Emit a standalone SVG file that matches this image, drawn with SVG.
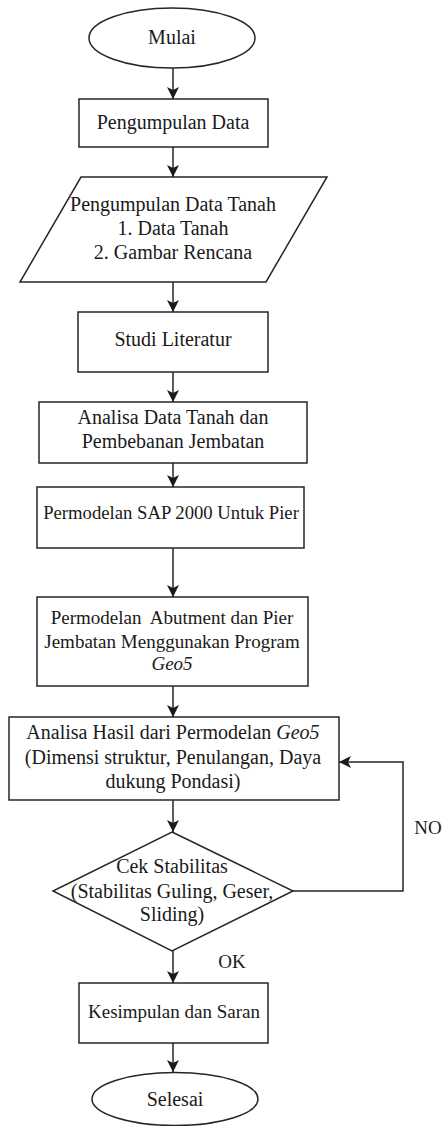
<svg xmlns="http://www.w3.org/2000/svg" width="443" height="1126" viewBox="0 0 443 1126">
  <style>
    .shape { fill: #ffffff; stroke: #262626; stroke-width: 1.5; }
    .edge { fill: none; stroke: #262626; stroke-width: 1.5; }
    .label { font-family: "Liberation Serif", "Times New Roman", serif; font-size: 20px; fill: #1a1a1a; text-anchor: middle; }
    .sm { font-size: 19px; }
    .it { font-style: italic; }
  </style>
  <defs>
    <marker id="arrow" viewBox="0 0 12 12" refX="12" refY="6" markerWidth="12" markerHeight="12" markerUnits="userSpaceOnUse" orient="auto">
      <path d="M0,0 L12,6 L0,12 L3,6 Z" fill="#1a1a1a"/>
    </marker>
  </defs>

  <rect width="443" height="1126" fill="#ffffff"/>

  <!-- connectors -->
  <g id="connectors">
    <line class="edge" x1="173" y1="68" x2="173" y2="99" marker-end="url(#arrow)"/>
    <line class="edge" x1="173" y1="147" x2="173" y2="177" marker-end="url(#arrow)"/>
    <line class="edge" x1="173" y1="282" x2="173" y2="312" marker-end="url(#arrow)"/>
    <line class="edge" x1="173" y1="372" x2="173" y2="402" marker-end="url(#arrow)"/>
    <line class="edge" x1="173" y1="463" x2="173" y2="487" marker-end="url(#arrow)"/>
    <line class="edge" x1="173" y1="548" x2="173" y2="597" marker-end="url(#arrow)"/>
    <line class="edge" x1="173" y1="686" x2="173" y2="717" marker-end="url(#arrow)"/>
    <line class="edge" x1="173" y1="800" x2="173" y2="832" marker-end="url(#arrow)"/>
    <line class="edge" x1="173" y1="951" x2="173" y2="983" marker-end="url(#arrow)"/>
    <line class="edge" x1="173" y1="1043" x2="173" y2="1072" marker-end="url(#arrow)"/>
    <!-- NO branch loops back to the analysis step -->
    <path class="edge" d="M293,891 H403 V762 H339" marker-end="url(#arrow)"/>
    <text class="label sm" x="428" y="834">NO</text>
    <text class="label sm" x="232" y="968">OK</text>
  </g>

  <g id="mulai">
    <ellipse class="shape" cx="172" cy="38" rx="83" ry="30"/>
    <text class="label" x="172" y="44">Mulai</text>
  </g>

  <g id="pengumpulan-data">
    <rect class="shape" x="79" y="99" width="189" height="48"/>
    <text class="label" x="173" y="129">Pengumpulan Data</text>
  </g>

  <g id="data-tanah">
    <polygon class="shape" points="81,177 327,177 266,282 20,282"/>
    <text class="label" x="173" y="211">Pengumpulan Data Tanah</text>
    <text class="label" x="173" y="235">1. Data Tanah</text>
    <text class="label" x="173" y="259">2. Gambar Rencana</text>
  </g>

  <g id="studi-literatur">
    <rect class="shape" x="78" y="312" width="190" height="60"/>
    <text class="label" x="173" y="346">Studi Literatur</text>
  </g>

  <g id="analisa-data">
    <rect class="shape" x="39" y="402" width="268" height="61"/>
    <text class="label" x="173" y="424">Analisa Data Tanah dan</text>
    <text class="label" x="173" y="448">Pembebanan Jembatan</text>
  </g>

  <g id="sap2000">
    <rect class="shape" x="37" y="487" width="267" height="61"/>
    <text class="label" x="171" y="519" style="font-size:18.7px">Permodelan SAP 2000 Untuk Pier</text>
  </g>

  <g id="geo5-model">
    <rect class="shape" x="37" y="597" width="271" height="89"/>
    <text class="label sm" x="172" y="624" xml:space="preserve">Permodelan  Abutment dan Pier</text>
    <text class="label sm" x="172" y="648">Jembatan Menggunakan Program</text>
    <text class="label sm it" x="172" y="670">Geo5</text>
  </g>

  <g id="analisa-hasil">
    <rect class="shape" x="9" y="717" width="330" height="83"/>
    <text class="label" x="173" y="739">Analisa Hasil dari Permodelan <tspan class="it">Geo5</tspan></text>
    <text class="label" x="173" y="764">(Dimensi struktur, Penulangan, Daya</text>
    <text class="label" x="173" y="788">dukung Pondasi)</text>
  </g>

  <g id="cek-stabilitas">
    <polygon class="shape" points="172,832 293,891 172,951 53,891"/>
    <text class="label" x="172" y="873">Cek Stabilitas</text>
    <text class="label" x="172" y="898">(Stabilitas Guling, Geser,</text>
    <text class="label" x="172" y="921">Sliding)</text>
  </g>

  <g id="kesimpulan">
    <rect class="shape" x="79" y="983" width="189" height="60"/>
    <text class="label sm" x="174" y="1018">Kesimpulan dan Saran</text>
  </g>

  <g id="selesai">
    <ellipse class="shape" cx="175" cy="1099" rx="83" ry="26.5"/>
    <text class="label" x="175" y="1106">Selesai</text>
  </g>
</svg>
